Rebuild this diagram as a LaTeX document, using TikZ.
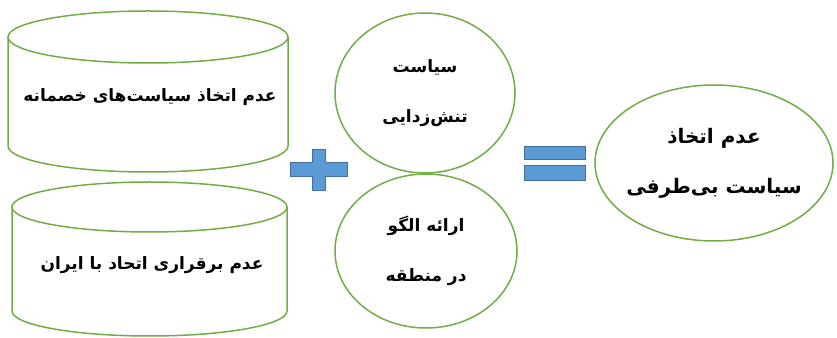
\documentclass[tikz,border=0pt]{standalone}
\usepackage{fontspec}
\newfontfamily\fa[Script=Arabic]{DejaVu Sans}
\TeXXeTstate=1
\usepackage{tikz}
\usetikzlibrary{shapes.geometric,positioning}
\definecolor{c1}{RGB}{112,173,71}
\definecolor{c2}{RGB}{91,155,213}
\definecolor{c3}{RGB}{65,113,156}
\tikzset{
  drum/.style={draw=c1, line width=1.5pt},
  oval/.style={ellipse, draw=c1, line width=1.5pt, inner sep=0pt, align=center},
  sign/.style={draw=c3, fill=c2, line width=1pt},
  txt/.style={font=\fa\bfseries\fontsize{17}{50}\selectfont, align=center},
  bigtxt/.style={font=\fa\bfseries\fontsize{20}{50}\selectfont, align=center}
}

\begin{document}
\begin{tikzpicture}[x=1pt,y=1pt]
    \useasboundingbox (0,0) rectangle (837,337);
    % Cylinders
    \draw[drum] (8,300) -- (8,191) arc[start angle=180, end angle=360, x radius=140, y radius=26] -- (288,300);
    \draw[drum] (148,300) ellipse[x radius=140, y radius=26];
    \node[txt] (hostile) at (150,240) {\beginR عدم اتخاذ سیاست‌های خصمانه\endR};
    \draw[drum] (12,130) -- (12,26) arc[start angle=180, end angle=360, x radius=137.5, y radius=25] -- (287,130);
    \draw[drum] (149.5,130) ellipse[x radius=137.5, y radius=25];
    \node[txt] (alliance) at (152,72) {\beginR عدم برقراری اتحاد با ایران\endR};

    % Plus and equals
    \draw[sign] (312,146) -- (325,146) -- (325,160) -- (347,160) -- (347,174) -- (325,174)
        -- (325,187) -- (312,187) -- (312,174) -- (290,174) -- (290,160) -- (312,160) -- cycle;
    \draw[sign] (524,177) rectangle (585,190);
    \draw[sign] (524,156) rectangle (585,171);

    % Ellipses
    \node[oval, txt, minimum width=180, minimum height=160] (detente) at (425,244)
        {\beginR سیاست\endR\\\beginR تنش‌زدایی\endR};
    \node[oval, txt, minimum width=182, minimum height=154] (model) at (426,86)
        {\beginR ارائه الگو\endR\\\beginR در منطقه\endR};
    \node[oval, bigtxt, inner sep=-12pt, minimum width=238, minimum height=156] (neutral) at (714,174)
        {\beginR عدم اتخاذ\endR\\\beginR سیاست بی‌طرفی\endR};
\end{tikzpicture}
\end{document}
